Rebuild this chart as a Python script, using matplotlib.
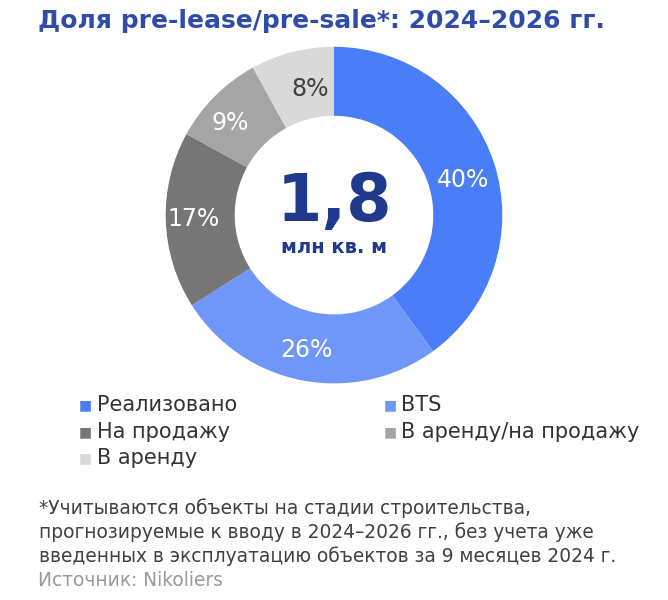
import matplotlib
matplotlib.use("Agg")
import matplotlib.pyplot as plt
import numpy as np

# data
categories = ["Реализовано", "BTS", "На продажу", "В аренду/на продажу", "В аренду"]
shares = [40, 26, 17, 9, 8]
colors = ["#4A7DF8", "#6F97FA", "#767676", "#A5A5A5", "#D9D9D9"]
label_colors = ["white", "white", "white", "white", "#404040"]
total_value = "1,8"
total_unit = "млн кв. м"

title = "Доля pre-lease/pre-sale*: 2024–2026 гг."
footnote = ("*Учитываются объекты на стадии строительства,\n"
            "прогнозируемые к вводу в 2024–2026 гг., без учета уже\n"
            "введенных в эксплуатацию объектов за 9 месяцев 2024 г.")
source = "Источник: Nikoliers"

plt.rcParams['font.family'] = ['DejaVu Sans']

fig = plt.figure(figsize=(6.68, 6.0), dpi=100)
fig.patch.set_facecolor("white")

fig.text(0.057, 0.965, title, fontsize=18, fontweight="bold", color="#2F4DA8",
         va="center", ha="left")

# donut
ax = fig.add_axes([0.248, 0.361, 0.504, 0.561])
wedges, _ = ax.pie(shares, colors=colors, startangle=90, counterclock=False,
                   radius=1.0, wedgeprops=dict(width=0.41, edgecolor="none"))
ax.set_aspect("equal")
ax.set_xlim(-1.0, 1.0)
ax.set_ylim(-1.0, 1.0)

# labels sit a little off the ring middle, like the original
offsets = [(2, -6), (-2, -3), (-7, 0), (-9, -3), (9, -3)]
cum = 0
for val, lc, off in zip(shares, label_colors, offsets):
    mid = 90 - (cum + val / 2) * 3.6
    cum += val
    r = 0.795
    ax.annotate(f"{val}%", (r * np.cos(np.radians(mid)), r * np.sin(np.radians(mid))),
                xytext=off, textcoords="offset pixels",
                ha="center", va="center", fontsize=17, color=lc)

ax.text(0, 0.07, total_value, ha="center", va="center", fontsize=47,
        fontweight="bold", color="#1F3A8C")
ax.text(0, -0.19, total_unit, ha="center", va="center", fontsize=14,
        fontweight="bold", color="#1F3A8C")

# legend
leg_pos = [(0.118, 0.325), (0.574, 0.325), (0.118, 0.280), (0.574, 0.280), (0.118, 0.237)]
for (x, y), cat, c in zip(leg_pos, categories, colors):
    fig.text(x, y, "■", fontsize=10, color=c, va="center", ha="left")
    fig.text(x + 0.027, y, cat, fontsize=15, color="#333333", va="center", ha="left")

fig.text(0.059, 0.113, footnote, fontsize=13.4, color="#404040", va="center", ha="left",
         linespacing=1.3)
fig.text(0.057, 0.033, source, fontsize=13.4, color="#999999", va="center", ha="left")

fig.savefig("out.png", dpi=100, facecolor="white")
